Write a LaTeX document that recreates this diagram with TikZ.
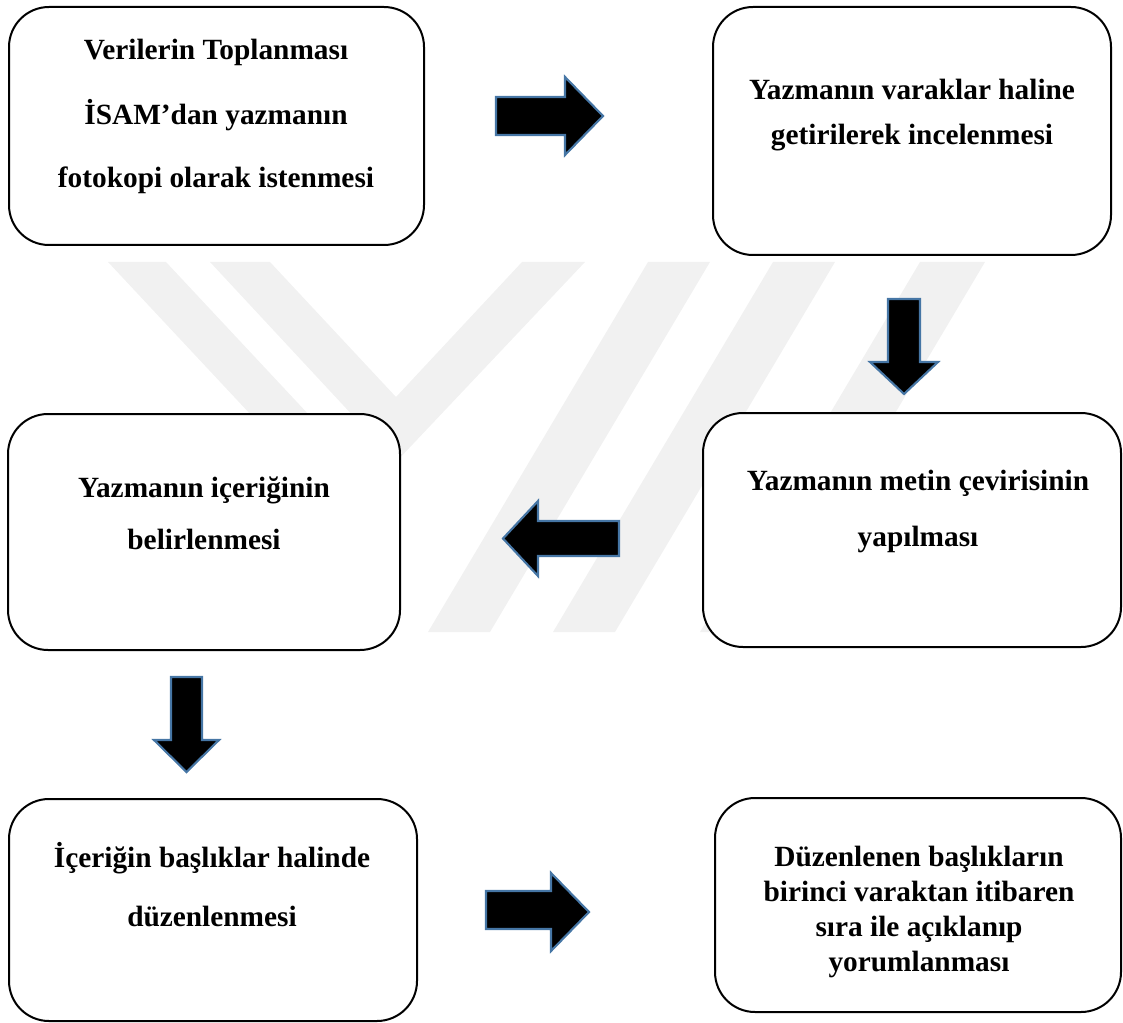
\documentclass[tikz,border=0pt]{standalone}
\usepackage{fontspec}
\setmainfont{Liberation Serif}
\usetikzlibrary{fit}
\definecolor{wm}{RGB}{241,241,241}
\definecolor{arrowedge}{RGB}{70,118,165}
\begin{document}
\begin{tikzpicture}[x=0.75pt,y=-0.75pt,
  box/.style={draw=black, line width=1.5pt, fill=white, rounded corners=30pt, inner sep=0pt},
  lbl/.style={font=\fontsize{22}{26}\selectfont\bfseries, text height=0.7em, text depth=0.25em, inner sep=0pt},
  blockarrow/.style={fill=black, draw=arrowedge, line width=1.6pt, line join=miter}]
\useasboundingbox (0,0) rectangle (1123,1023);
% watermark
\fill[wm] (210,262) -- (270,262) -- (396,397) -- (522,262) -- (585,262) -- (396,462) -- cycle;
\fill[wm] (108,262) -- (166,262) -- (310,416) -- (252,416) -- cycle;
\fill[wm] (648,262) -- (710,262) -- (490,632) -- (428,632) -- cycle;
\fill[wm] (773,262) -- (835,262) -- (615,632) -- (553,632) -- cycle;
\fill[wm] (920,262) -- (985,262) -- (765,632) -- (700,632) -- cycle;
% boxes
\node[box, fit={(9,7) (424,245)}] (b1) {};
\node[box, fit={(713,7) (1111,255)}] (b2) {};
\node[box, fit={(703,413) (1121,647)}] (b3) {};
\node[box, fit={(8,414) (400,650)}] (b4) {};
\node[box, fit={(9,799) (417,1021)}] (b5) {};
\node[box, fit={(715,798) (1121,1012)}] (b6) {};
% texts
\node[lbl] (t1a) at (216,57) {Verilerin Toplanması};
\node[lbl] (t1b) at (216,122) {İSAM’dan yazmanın};
\node[lbl] (t1c) at (216,185) {fotokopi olarak istenmesi};
\node[lbl] (t2a) at (912,97) {Yazmanın varaklar haline};
\node[lbl] (t2b) at (912,142) {getirilerek incelenmesi};
\node[lbl] (t3a) at (918,487) {Yazmanın metin çevirisinin};
\node[lbl] (t3b) at (918,543) {yapılması};
\node[lbl] (t4a) at (204,494) {Yazmanın içeriğinin};
\node[lbl] (t4b) at (204,546) {belirlenmesi};
\node[lbl] (t5a) at (212,864) {İçeriğin başlıklar halinde};
\node[lbl] (t5b) at (212,923) {düzenlenmesi};
\node[lbl] (t6a) at (919,863) {Düzenlenen başlıkların};
\node[lbl] (t6b) at (919,898) {birinci varaktan itibaren};
\node[lbl] (t6c) at (919,933) {sıra ile açıklanıp};
\node[lbl] (t6d) at (919,968) {yorumlanması};
% block arrows
\draw[blockarrow] (496,97) -- (565,97) -- (565,77) -- (603,116) -- (565,155) -- (565,135) -- (496,135) -- cycle;
\draw[blockarrow] (888,299) -- (920,299) -- (920,362) -- (938,362) -- (904,394) -- (870,362) -- (888,362) -- cycle;
\draw[blockarrow] (619,521) -- (538,521) -- (538,501) -- (503,538.5) -- (538,576) -- (538,556) -- (619,556) -- cycle;
\draw[blockarrow] (171,677) -- (202,677) -- (202,740) -- (219,740) -- (186.5,772) -- (154,740) -- (171,740) -- cycle;
\draw[blockarrow] (486,891) -- (551,891) -- (551,873) -- (589,912) -- (551,951) -- (551,929) -- (486,929) -- cycle;
\end{tikzpicture}
\end{document}
